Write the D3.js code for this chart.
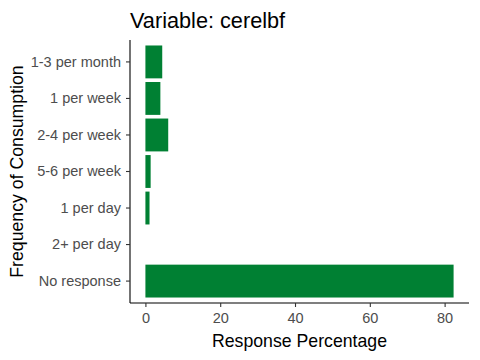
<!DOCTYPE html>
<html><head><meta charset="utf-8">
<script src="https://cdn.jsdelivr.net/npm/d3@7"></script>
<style>body{margin:0;background:#fff}svg{display:block;font-family:"Liberation Sans",Arial,sans-serif}</style>
</head><body>
<svg id="c" width="480" height="360"></svg>
<script>
const categories = ["1-3 per month","1 per week","2-4 per week","5-6 per week","1 per day","2+ per day","No response"];
const values = [4.5, 4.0, 6.1, 1.4, 1.1, 0, 82.4];
const xTicks = [0, 20, 40, 60, 80];

const svg = d3.select("#c");
const m = {left:130, right:469, top:40, bottom:303};
const maxV = d3.max(values);
const pad = maxV * 0.05;
const x = d3.scaleLinear().domain([-pad, maxV + pad]).range([m.left, m.right]);
const y = d3.scaleBand().domain(categories).range([m.top, m.bottom]).paddingInner(0.1).paddingOuter(0.15);

svg.selectAll("rect.bar").data(categories).enter().append("rect")
  .attr("class","bar")
  .attr("x", x(0))
  .attr("y", d => y(d))
  .attr("width", (d,i) => x(values[i]) - x(0))
  .attr("height", y.bandwidth())
  .attr("fill", "#008033");

const xa = svg.append("g").attr("transform", `translate(0,${m.bottom})`)
  .call(d3.axisBottom(x).tickValues(xTicks).tickSize(4).tickSizeOuter(0).tickPadding(6));
const ya = svg.append("g").attr("transform", `translate(${m.left},0)`)
  .call(d3.axisLeft(y).tickSize(4).tickSizeOuter(0).tickPadding(5));
[xa, ya].forEach(a => {
  a.attr("font-family", "Liberation Sans, Arial, sans-serif").attr("font-size", 14.5);
  a.select(".domain").attr("stroke", "#000").attr("stroke-width", 1.1);
  a.selectAll(".tick line").attr("stroke", "#333").attr("stroke-width", 1.1);
  a.selectAll(".tick text").attr("fill", "#4d4d4d");
});
xa.select(".domain").attr("d", `M${m.left},0H${m.right}`);
ya.select(".domain").attr("d", `M0,${m.top}V${m.bottom}`);

svg.append("text").attr("x", 130).attr("y", 28).attr("font-size", 21.7).attr("fill", "#000")
  .text("Variable: cerelbf");
svg.append("text").attr("x", (m.left + m.right) / 2).attr("y", 347).attr("text-anchor", "middle")
  .attr("font-size", 17.7).attr("fill", "#000").text("Response Percentage");
svg.append("text").attr("transform", `translate(23,${(m.top + m.bottom) / 2}) rotate(-90)`)
  .attr("text-anchor", "middle").attr("font-size", 17.7).attr("fill", "#000").text("Frequency of Consumption");
</script>
</body></html>
